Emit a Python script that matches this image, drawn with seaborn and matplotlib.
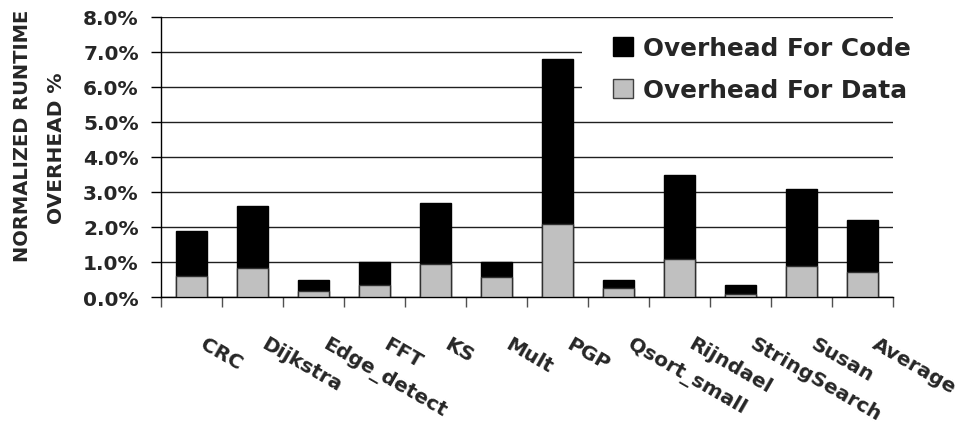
import numpy as np
import pandas as pd
import matplotlib
matplotlib.use("Agg")
import matplotlib.pyplot as plt
from matplotlib.patches import Patch, Rectangle
from matplotlib.ticker import PercentFormatter
from matplotlib.transforms import ScaledTranslation
import seaborn as sns

# Benchmarks and their runtime overhead split (percent)
benchmarks = ["CRC", "Dijkstra", "Edge_detect", "FFT", "KS", "Mult", "PGP",
              "Qsort_small", "Rijndael", "StringSearch", "Susan", "Average"]
overhead_data = [0.60, 0.84, 0.18, 0.33, 0.94, 0.57, 2.10, 0.27, 1.08, 0.09, 0.90, 0.71]
overhead_code = [1.30, 1.77, 0.32, 0.67, 1.76, 0.43, 4.70, 0.21, 2.42, 0.25, 2.20, 1.48]
y_ticks = [0, 1, 2, 3, 4, 5, 6, 7, 8]

df = pd.DataFrame({
    "benchmark": benchmarks,
    "data": overhead_data,
    "code": overhead_code,
})
df["total"] = df["data"] + df["code"]

sns.set_style("white")
plt.rcParams["font.family"] = ["DejaVu Sans"]
plt.rcParams["font.weight"] = "bold"

fig = plt.figure(figsize=(9.62, 4.27), dpi=100)
ax = fig.add_axes([161 / 962, 1 - 298 / 427, 732 / 962, 280 / 427])

# Stacked bars: full height in black, data portion in grey on top of it
sns.barplot(data=df, x="benchmark", y="total", color="black", saturation=1,
            width=0.5, edgecolor="black", linewidth=1, ax=ax, zorder=2)
sns.barplot(data=df, x="benchmark", y="data", color="#C0C0C0", saturation=1,
            width=0.5, edgecolor="#303030", linewidth=1, ax=ax, zorder=3)

ax.set_xlim(-0.5, len(benchmarks) - 0.5)
ax.set_ylim(0, 8)
ax.set_yticks(y_ticks)
ax.yaxis.set_major_formatter(PercentFormatter(decimals=1))
ax.set_xlabel("")
ax.set_ylabel("")

ax.set_axisbelow(True)
ax.yaxis.grid(True, color="#202020", linewidth=1)
ax.xaxis.grid(False)

for side in ["top", "right"]:
    ax.spines[side].set_visible(False)
for side in ["left", "bottom"]:
    ax.spines[side].set_color("black")
    ax.spines[side].set_linewidth(1)

# Category boundary ticks on the x axis
ax.set_xticks(np.arange(-0.5, len(benchmarks), 1), minor=True)
ax.tick_params(axis="x", which="minor", length=7, width=1, color="#505050",
               direction="out", bottom=True)
ax.tick_params(axis="x", which="major", length=0, pad=36)
ax.tick_params(axis="y", which="major", length=7, width=1, color="black",
               direction="out", left=True, pad=9, labelsize=14.5)
ax.set_xticks(range(len(benchmarks)))
ax.set_xticklabels(benchmarks, rotation=-30, ha="left", va="baseline",
                   rotation_mode="anchor", fontsize=14.5, fontweight="bold")
shift = ScaledTranslation(8 / 100, 0, fig.dpi_scale_trans)
for lab in ax.get_xticklabels():
    lab.set_transform(lab.get_transform() + shift)
for lab in ax.get_yticklabels():
    lab.set_fontweight("bold")

# White backing behind the legend
ax.add_patch(Rectangle((0.575, 0.67), 0.425, 0.29, transform=ax.transAxes,
                       facecolor="white", edgecolor="none", zorder=1))

handles = [Patch(facecolor="black", edgecolor="black", linewidth=1),
           Patch(facecolor="#C0C0C0", edgecolor="#404040", linewidth=1)]
fig.legend(handles, ["Overhead For Code", "Overhead For Data"],
           loc="upper left", bbox_to_anchor=(613 / 962, 1 - 37 / 427),
           frameon=False, borderpad=0, borderaxespad=0,
           prop={"size": 17.8, "weight": "bold"},
           handlelength=0.82, handleheight=0.82, handletextpad=0.4,
           labelspacing=0.72)

fig.text(23 / 962, 1 - 135.5 / 427, "NORMALIZED RUNTIME", rotation=90,
         ha="center", va="center", fontsize=14, fontweight="bold")
fig.text(57 / 962, 1 - 148.5 / 427, "OVERHEAD %", rotation=90,
         ha="center", va="center", fontsize=14.5, fontweight="bold")

fig.savefig("out.png", dpi=100)
